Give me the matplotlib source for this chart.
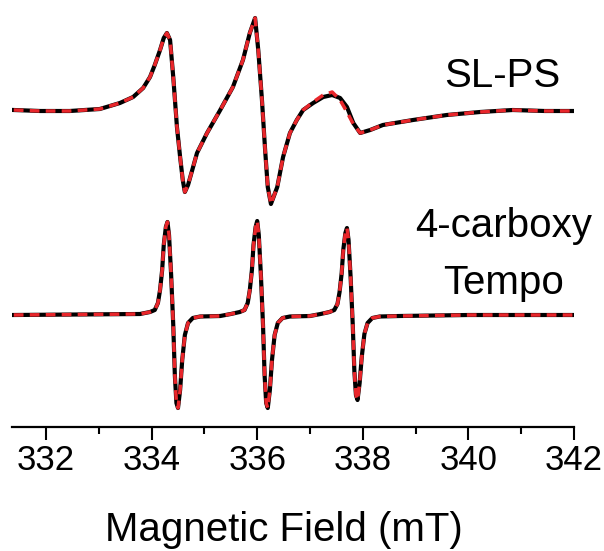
import matplotlib
matplotlib.use("Agg")
import matplotlib.pyplot as plt
from matplotlib.ticker import MultipleLocator

plt.rcParams['font.family'] = ['Liberation Sans', 'DejaVu Sans']

# SL-PS spectrum (field in mT, signal relative to baseline)
slps_field = [331.39, 331.89, 332.45, 333.02, 333.40, 333.65, 333.84, 333.97, 334.06, 334.16,
              334.23, 334.29, 334.35, 334.41, 334.48, 334.54, 334.59, 334.63, 334.69, 334.77,
              334.86, 335.05, 335.30, 335.54, 335.73, 335.86, 335.96, 336.02, 336.09, 336.15,
              336.20, 336.26, 336.38, 336.49, 336.62, 336.75, 336.87, 337.06, 337.25, 337.42,
              337.57, 337.70, 337.82, 337.95, 338.14, 338.38, 338.95, 339.59, 340.22, 340.84,
              341.45, 341.98]
slps_exp = [0, -1, -1, 1, 7, 13, 22, 33, 45, 60,
            72, 77, 70, 33, -17, -47, -70, -82, -75, -60,
            -43, -23, 0, 23, 50, 77, 92, 60, 10, -40,
            -77, -94, -77, -47, -23, -10, 0, 7, 13, 15,
            12, 3, -13, -23, -20, -15, -10, -5, -2, 0,
            -1, -1]
slps_sim = [0, -1, -1, 1, 7, 13, 22, 33, 45, 60,
            72, 77, 70, 33, -17, -47, -70, -82, -75, -60,
            -43, -23, 0, 23, 50, 77, 92, 60, 10, -40,
            -77, -94, -77, -47, -23, -10, 0, 8, 15, 18,
            10, -2, -14, -23, -20, -15, -10, -5, -2, 0,
            -1, -1]

# 4-carboxy Tempo spectrum
tempo_field = [331.39,
               333.78, 333.97, 334.06, 334.12, 334.16, 334.20, 334.23, 334.27, 334.30, 334.33, 334.37,
               334.41, 334.44, 334.47, 334.50, 334.54, 334.58, 334.63, 334.69, 334.78, 334.92, 335.30,
               335.50, 335.67, 335.76, 335.82, 335.86, 335.90, 335.93, 335.97, 336.00, 336.03, 336.07,
               336.11, 336.14, 336.17, 336.20, 336.24, 336.28, 336.33, 336.39, 336.48, 336.62, 337.00,
               337.20, 337.37, 337.46, 337.52, 337.56, 337.60, 337.63, 337.67, 337.70, 337.73, 337.77,
               337.81, 337.84, 337.87, 337.90, 337.94, 337.98, 338.03, 338.09, 338.18, 338.32, 338.70,
               340.00, 341.98]
tempo_signal = [0,
                1, 3, 5, 12, 25, 45, 70, 88, 93, 80, 40,
                -10, -60, -88, -93, -75, -45, -20, -8, -3, -1.5, -1,
                1, 3, 5, 12, 25, 45, 70, 88, 94, 80, 40,
                -10, -60, -88, -93, -75, -45, -20, -8, -3, -1.5, -1,
                1, 3, 5, 11, 23, 42, 65, 82, 87, 75, 37,
                -10, -56, -80, -85, -68, -42, -19, -8, -3, -1.5, -1,
                0, 0]

top_offset = 317
bottom_offset = 112
red = '#e8262b'

fig = plt.figure(figsize=(6.04, 5.51), dpi=100)
ax = fig.add_axes([12 / 604, 124 / 551, 562 / 604, 427 / 551])

ax.plot(slps_field, [v + top_offset for v in slps_exp], color='black', lw=3.0, solid_joinstyle='round')
ax.plot(slps_field, [v + top_offset for v in slps_sim], color=red, lw=2.5, dashes=(2.8, 1.8))
ax.plot(tempo_field, [v + bottom_offset for v in tempo_signal], color='black', lw=3.0, solid_joinstyle='round')
ax.plot(tempo_field, [v + bottom_offset for v in tempo_signal], color=red, lw=2.5, dashes=(2.8, 1.8))

ax.set_xlim(331.356, 342)
ax.set_ylim(0, 427)
for s in ['left', 'right', 'top']:
    ax.spines[s].set_visible(False)
ax.spines['bottom'].set_linewidth(1.6)
ax.set_yticks([])
ax.xaxis.set_major_locator(MultipleLocator(2))
ax.xaxis.set_minor_locator(MultipleLocator(1))
ax.tick_params(axis='x', which='major', length=9, width=1.5, labelsize=25, pad=3, direction='out')
ax.tick_params(axis='x', which='minor', length=5, width=1.5, direction='out')
ax.patch.set_visible(False)

fig.text(284 / 604, 1 - 541 / 551, 'Magnetic Field (mT)', ha='center', va='baseline', fontsize=29)
fig.text(502 / 604, 1 - 87 / 551, 'SL-PS', ha='center', va='baseline', fontsize=29)
fig.text(504 / 604, 1 - 237 / 551, '4-carboxy', ha='center', va='baseline', fontsize=29)
fig.text(504 / 604, 1 - 294 / 551, 'Tempo', ha='center', va='baseline', fontsize=29)

fig.savefig('out.png', dpi=100)
